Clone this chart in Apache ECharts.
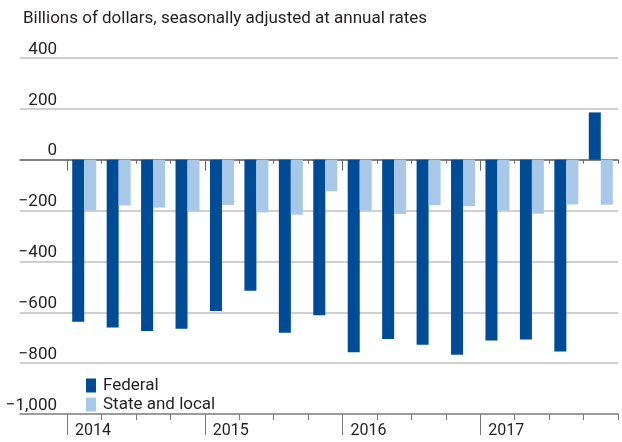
<!DOCTYPE html>
<html>
<head>
<meta charset="utf-8">
<script src="https://cdn.jsdelivr.net/npm/echarts@6/dist/echarts.min.js"></script>
<style>html,body{margin:0;padding:0;background:#fff;}#c{width:622px;height:442px;}</style>
</head>
<body>
<div id="c"></div>
<script>
const titleText = 'Billions of dollars, seasonally adjusted at annual rates';
const quarters = ['2014 Q1','2014 Q2','2014 Q3','2014 Q4','2015 Q1','2015 Q2','2015 Q3','2015 Q4',
                  '2016 Q1','2016 Q2','2016 Q3','2016 Q4','2017 Q1','2017 Q2','2017 Q3','2017 Q4'];
const federal = [-637, -660, -674, -665, -595, -515, -680, -612, -757, -705, -728, -767, -711, -707, -754, 186];
const stateLocal = [-199, -180, -188, -203, -178, -207, -216, -124, -200, -213, -179, -183, -200, -212, -176, -177];
const years = ['2014', '2015', '2016', '2017'];
const yearStarts = [0, 4, 8, 12];
const yMin = -1000, yMax = 400, yStep = 200;

const FONT = 'Roboto';
function fmtY(v) {
  const s = Math.abs(v).toString().replace(/\B(?=(\d{3})+(?!\d))/g, ',');
  return v < 0 ? '\u2212' + s : s;
}
const W = 622, H = 442;
const gL = 20, gR = 4, gT = 58, gB = 28, pL = 67;
const plotH = H - gT - gB;
const zeroOffset = -plotH * (0 - yMin) / (yMax - yMin);
const tickCol = '#7a7a7a';
const zeroCol = '#6a6a6a';
const chart = echarts.init(document.getElementById('c'), null, {renderer: 'canvas', width: W, height: H});

function tickAxis(opts) {
  return Object.assign({
    gridIndex: 1, type: 'value', min: 0, max: 16, position: 'bottom',
    axisLine: {show: false, onZero: false},
    axisLabel: {show: false}, splitLine: {show: false}
  }, opts);
}

const option = {
  animation: false,
  textStyle: {fontFamily: FONT},
  title: {text: titleText, left: 18, top: 5, textStyle: {fontFamily: FONT, fontSize: 17, fontWeight: 'normal', color: '#231f20'}},
  legend: {
    orient: 'vertical', left: 81, top: 372, itemWidth: 10, itemHeight: 14, itemGap: 2,
    icon: 'rect',
    textStyle: {fontFamily: FONT, fontSize: 17, lineHeight: 17, color: '#231f20', padding: [0,0,0,2]},
    data: ['Federal', 'State and local']
  },
  grid: [
    {left: gL, right: gR, top: gT, bottom: gB},
    {left: pL, right: gR, top: gT, bottom: gB}
  ],
  yAxis: [
    {gridIndex: 0, type: 'value', min: yMin, max: yMax, interval: yStep,
     axisLine: {show: false}, axisTick: {show: false},
     splitLine: {show: true, lineStyle: {color: '#d0d0d0', width: 2}},
     axisLabel: {formatter: fmtY, fontFamily: FONT, fontSize: 17, lineHeight: 17, color: '#231f20', align: 'right', margin: -37,
                 verticalAlign: 'bottom'}},
    {gridIndex: 1, type: 'value', min: yMin, max: yMax, interval: yStep,
     axisLine: {show: false}, axisTick: {show: false}, splitLine: {show: false}, axisLabel: {show: false}}
  ],
  xAxis: [
    // zero line across the full width
    {gridIndex: 0, type: 'value', min: 0, max: 1, position: 'bottom', offset: zeroOffset,
     axisLine: {show: true, onZero: false, lineStyle: {color: zeroCol, width: 1.5}},
     axisTick: {show: false}, axisLabel: {show: false}, splitLine: {show: false}},
    // bottom axis line
    {gridIndex: 0, type: 'value', min: 0, max: 1, position: 'bottom',
     axisLine: {show: true, onZero: false, lineStyle: {color: '#8a8a8a', width: 1.5}},
     axisTick: {show: false}, axisLabel: {show: false}, splitLine: {show: false}},
    // category axis for the bars
    {gridIndex: 1, type: 'category', data: quarters, position: 'bottom',
     axisLine: {show: false, onZero: false}, axisTick: {show: false},
     axisLabel: {show: false}, splitLine: {show: false}},
    // quarter ticks on the zero line
    tickAxis({interval: 1, offset: zeroOffset, axisTick: {show: true, length: 4, lineStyle: {color: zeroCol, width: 1}}}),
    // year ticks on the zero line
    tickAxis({offset: zeroOffset, axisTick: {show: true, length: 11, customValues: yearStarts, lineStyle: {color: zeroCol, width: 1}}}),
    // quarter ticks at the bottom
    tickAxis({interval: 1, axisTick: {show: true, length: 6, lineStyle: {color: tickCol, width: 1}}}),
    // year ticks and labels at the bottom
    tickAxis({
      axisTick: {show: true, length: 21, customValues: yearStarts, lineStyle: {color: tickCol, width: 1}},
      axisLabel: {show: true, customValues: yearStarts, formatter: v => years[yearStarts.indexOf(v)] || '',
                  align: 'left', padding: [0,0,0,8], margin: 9, fontFamily: FONT, fontSize: 16, color: '#231f20'}
    })
  ],
  series: [
    {name: 'Federal', type: 'bar', xAxisIndex: 2, yAxisIndex: 1, data: federal, barWidth: 12, barGap: '0%',
     itemStyle: {color: '#004b96'}},
    {name: 'State and local', type: 'bar', xAxisIndex: 2, yAxisIndex: 1, data: stateLocal, barWidth: 12, barGap: '0%',
     itemStyle: {color: '#a9c8e8'}}
  ]
};
chart.setOption(option);
</script>
</body>
</html>
